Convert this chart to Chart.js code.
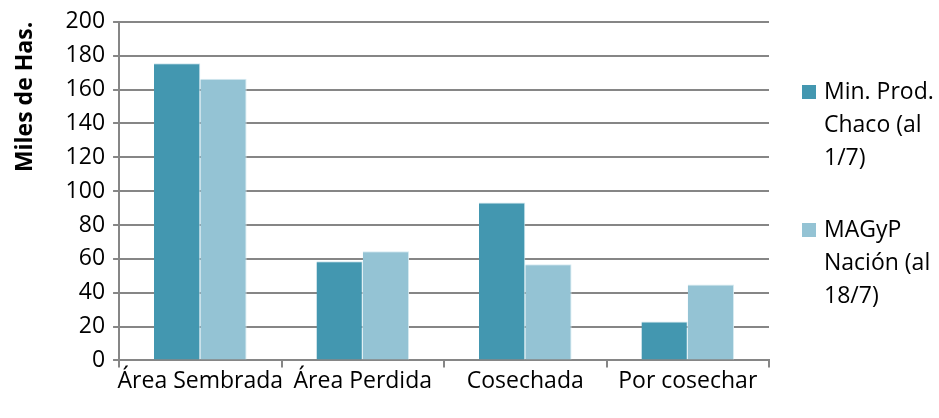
<!DOCTYPE html>
<html>
<head>
<meta charset="utf-8">
<script src="https://cdn.jsdelivr.net/npm/chart.js@4/dist/chart.umd.min.js"></script>
<style>
  html, body { margin: 0; padding: 0; background: #fff; }
  #wrap { position: relative; width: 939px; height: 418px; }
  #legend { position: absolute; left: 802px; top: 74px; font-family: "Open Sans", sans-serif; font-size: 23px; color: #000; line-height: 33px; }
  .item { position: relative; padding-left: 22px; margin-bottom: 39px; }
  .sw { position: absolute; left: 0; top: 11px; width: 14px; height: 14px; }
</style>
</head>
<body>
<div id="wrap">
  <canvas id="c" width="939" height="418"></canvas>
  <div id="legend"></div>
</div>
<script>
const categories = ["Área Sembrada", "Área Perdida", "Cosechada", "Por cosechar"];
const seriesNames = [["Min. Prod.", "Chaco (al", "1/7)"], ["MAGyP", "Nación (al", "18/7)"]];
const minProdChaco = [175.5, 58.5, 93.3, 23];
const magypNacion = [166.3, 64.5, 56.8, 44.8];
const yTicks = [0, 20, 40, 60, 80, 100, 120, 140, 160, 180, 200];
const yTitle = "Miles de Has.";

const colors = ["#4397B0", "#94C3D4"];
const FONT = "'Open Sans', sans-serif";

const legend = document.getElementById('legend');
seriesNames.forEach((lines, i) => {
  const d = document.createElement('div');
  d.className = 'item';
  d.innerHTML = '<span class="sw" style="background:' + colors[i] + '"></span>' + lines.join('<br>');
  legend.appendChild(d);
});

new Chart(document.getElementById('c'), {
  type: 'bar',
  data: {
    labels: categories,
    datasets: [
      { label: seriesNames[0].join(' '), data: minProdChaco, backgroundColor: colors[0], borderColor: '#cfe6ee', borderWidth: {top:1, left:0, right:1, bottom:0} },
      { label: seriesNames[1].join(' '), data: magypNacion, backgroundColor: colors[1], borderColor: '#d8ecf2', borderWidth: {top:1, left:0, right:1, bottom:0} }
    ]
  },
  options: {
    responsive: false,
    animation: false,
    devicePixelRatio: 1,
    layout: { padding: { left: 12, right: 170, top: 5, bottom: 23 } },
    plugins: { legend: { display: false }, tooltip: { enabled: false } },
    datasets: { bar: { categoryPercentage: 0.57, barPercentage: 1.0 } },
    scales: {
      x: {
        grid: { offset: true, drawOnChartArea: false, drawTicks: true, tickLength: 7, color: '#868686', lineWidth: 2 },
        border: { color: '#868686', width: 2 },
        ticks: { color: '#000', font: { family: FONT, size: 23 }, padding: 0, maxRotation: 0, autoSkip: false }
      },
      y: {
        min: 0, max: 200,
        afterBuildTicks: (s) => { s.ticks = yTicks.map(v => ({ value: v })); },
        grid: { color: '#868686', lineWidth: 2, drawTicks: true, tickLength: 6 },
        border: { color: '#868686', width: 2 },
        ticks: { color: '#000', font: { family: FONT, size: 23 }, padding: 8 },
        title: { display: true, text: yTitle, align: 'end', color: '#000', font: { family: FONT, size: 23, weight: 'bold' }, padding: { top: 0, bottom: 18 } }
      }
    }
  }
});
</script>
</body>
</html>
